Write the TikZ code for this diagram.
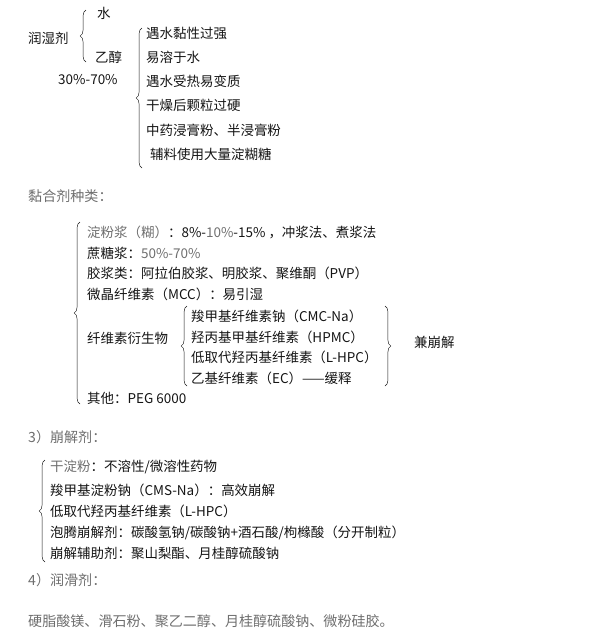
\documentclass[tikz,border=0pt]{standalone}
\usepackage{fontspec}
\setmainfont{Noto Sans CJK SC}
\usetikzlibrary{decorations.pathreplacing,positioning}
\definecolor{ink}{RGB}{20,20,20}
\definecolor{soft}{RGB}{110,110,110}

\begin{document}
\begin{tikzpicture}[x=0.03cm, y=-0.03cm,
    item/.style={anchor=west, inner sep=0pt, text=ink, font=\fontsize{11.5pt}{13pt}\selectfont},
    head/.style={anchor=west, inner sep=0pt, text=soft, font=\fontsize{12pt}{13pt}\selectfont},
    brace/.style={decorate, decoration={brace, amplitude=5pt}, draw=ink, thin},
]
    \useasboundingbox (0,0) rectangle (602,633);

    % wetting agent
    \node[item] (wet) at (28,38) {润湿剂};
    \node[item] (water) at (97,13) {水};
    \node[item] (eth) at (95,57) {乙醇};
    \node[item] (ethpct) at (58,80) {30\%-70\%};
    \draw[brace] (86,62) -- (86,10);

    \node[item] (w1) at (146,33) {遇水黏性过强};
    \node[item] (w2) at (146,57) {易溶于水};
    \node[item] (w3) at (146,81) {遇水受热易变质};
    \node[item] (w4) at (146,105) {干燥后颗粒过硬};
    \node[item] (w5) at (146,130) {中药浸膏粉、半浸膏粉};
    \node[item] (w6) at (150,154) {辅料使用大量淀糊糖};
    \draw[brace] (142,168) -- (142,28);

    % binders
    \node[head] (bind) at (28,196) {黏合剂种类：};
    \node[item] (b1) at (87,232) {\textcolor{soft}{淀粉浆（糊）}：8\%-\textcolor{soft}{10\%}-15\% ，冲浆法、煮浆法};
    \node[item] (b2) at (87,253) {蔗糖浆：\textcolor{soft}{50\%-70\%}};
    \node[item] (b3) at (87,273) {胶浆类：阿拉伯胶浆、明胶浆、聚维酮（PVP）};
    \node[item] (b4) at (87,294) {微晶纤维素（MCC）：易引湿};
    \node[item] (b5) at (87,338) {纤维素衍生物};
    \node[item] (b6) at (87,398) {其他：PEG 6000};
    \draw[brace] (80,404) -- (80,222);

    \node[item] (c1) at (191,316) {羧甲基纤维素钠（CMC-Na）};
    \node[item] (c2) at (191,337) {羟丙基甲基纤维素（HPMC）};
    \node[item] (c3) at (191,357) {低取代羟丙基纤维素（L-HPC）};
    \node[item] (c4) at (191,378) {乙基纤维素（EC）——缓释};
    \draw[brace] (187,386) -- (187,306);
    \draw[brace] (385,306) -- (385,386);
    \node[item] (both) at (414,342) {兼崩解};

    % disintegrants
    \node[head] (dis) at (28,437) {3）崩解剂：};
    \node[item] (d1) at (50,467) {\textcolor{soft}{干淀粉}：不溶性/微溶性药物};
    \node[item] (d2) at (50,490) {羧甲基淀粉钠（CMS-Na）：高效崩解};
    \node[item] (d3) at (50,511) {低取代羟丙基纤维素（L-HPC）};
    \node[item] (d4) at (50,533) {泡腾崩解剂：碳酸氢钠/碳酸钠+酒石酸/枸橼酸（分开制粒）};
    \node[item] (d5) at (50,553) {崩解辅助剂：聚山梨酯、月桂醇硫酸钠};
    \draw[brace] (45,562) -- (45,460);

    % lubricants
    \node[head] (lub) at (28,580) {4）润滑剂：};
    \node[head] (l1) at (28,621) {硬脂酸镁、滑石粉、聚乙二醇、月桂醇硫酸钠、微粉硅胶。};
\end{tikzpicture}
\end{document}
